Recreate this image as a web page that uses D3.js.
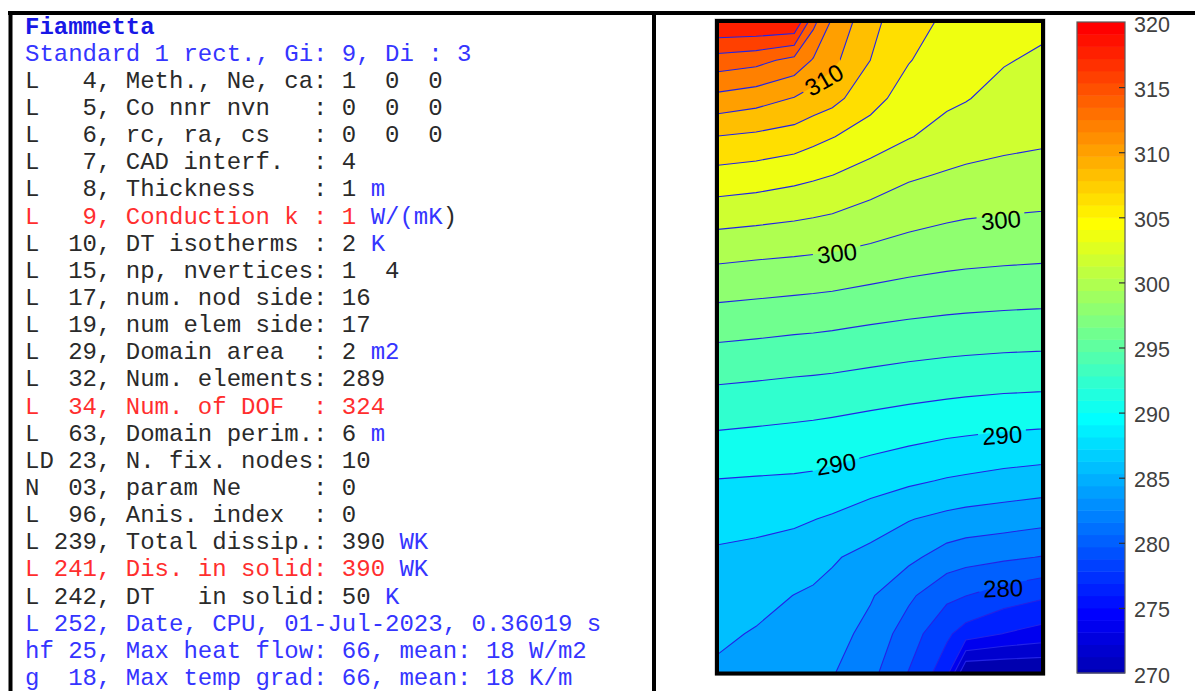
<!DOCTYPE html>
<html>
<head>
<meta charset="utf-8">
<script src="https://cdn.jsdelivr.net/npm/d3@7"></script>
<style>
  html, body { margin: 0; padding: 0; background: #fff; }
  svg { display: block; }
  .mono { font-family: "Liberation Mono", "DejaVu Sans Mono", monospace; font-size: 24px; white-space: pre; }
  .sans { font-family: "Liberation Sans", Arial, sans-serif; }
</style>
</head>
<body>
<svg id="chart" width="1197" height="691"></svg>
<script>
// ---------------------------------------------------------------
// Temperature field on the 1 m x 2 m rectangle (17 x 17 elements).
// Sampled mesh columns / rows (node indices, rows counted from top).
const meshCols = [0, 2, 4, 5, 6, 8, 10, 12, 13, 15, 17];
const meshRows = [0, 1, 2, 3, 4, 6, 8, 10, 12, 13, 14, 15, 16, 17];
const elemPerSide = 17;

// Nodal temperatures [K], one row per entry of meshRows (top to bottom)
const tempRow00 = [320.00, 320.00, 320.00, 314.54, 311.66, 308.57, 306.65, 305.70, 305.46, 304.98, 304.50];
const tempRow01 = [315.14, 314.65, 313.40, 311.84, 310.50, 307.99, 306.10, 305.03, 304.79, 304.15, 303.65];
const tempRow02 = [311.37, 310.81, 309.89, 309.16, 308.61, 306.67, 305.15, 304.36, 304.11, 303.32, 302.98];
const tempRow03 = [307.94, 307.61, 307.13, 306.58, 306.07, 305.12, 304.11, 303.30, 302.93, 302.50, 302.31];
const tempRow04 = [305.34, 305.07, 304.62, 304.33, 304.02, 303.14, 302.29, 301.82, 301.64, 301.48, 301.33];
const tempRow06 = [300.65, 300.44, 300.27, 300.16, 300.04, 299.64, 299.23, 298.92, 298.80, 298.64, 298.53];
const tempRow08 = [296.69, 296.52, 296.32, 296.24, 296.13, 295.84, 295.59, 295.40, 295.33, 295.22, 295.15];
const tempRow10 = [293.07, 292.90, 292.71, 292.63, 292.54, 292.28, 292.00, 291.75, 291.64, 291.47, 291.37];
const tempRow12 = [289.92, 289.81, 289.72, 289.61, 289.36, 288.85, 288.34, 287.84, 287.67, 287.33, 287.09];
const tempRow13 = [288.66, 288.50, 288.30, 288.05, 287.78, 287.01, 286.10, 285.49, 285.24, 284.95, 284.61];
const tempRow14 = [287.68, 287.48, 287.09, 286.70, 286.20, 285.38, 284.48, 283.12, 282.72, 282.33, 281.92];
const tempRow15 = [287.01, 286.62, 285.97, 285.73, 285.44, 284.20, 282.38, 280.49, 280.04, 279.07, 278.33];
const tempRow16 = [286.34, 285.85, 285.43, 285.16, 284.79, 283.37, 281.02, 278.35, 277.18, 275.95, 275.22];
const tempRow17 = [285.70, 285.30, 284.90, 284.60, 284.15, 282.60, 279.95, 276.90, 270.00, 270.00, 270.00];

// Isotherm levels (DT = 2 K) and colour limits
const isoLevels = [270, 272, 274, 276, 278, 280, 282, 284, 286, 288, 290, 292, 294,
                   296, 298, 300, 302, 304, 306, 308, 310, 312, 314, 316, 318];
const colorLimits = [267.5, 327.5];
const colorbarTicks = [270, 275, 280, 285, 290, 295, 300, 305, 310, 315, 320];

// Inline isotherm labels: value, position (x, y in metres), text angle
const labelValues = [310, 300, 300, 290, 290, 280];
const labelX      = [0.327, 0.367, 0.873, 0.364, 0.877, 0.880];
const labelY      = [1.822, 1.289, 1.391, 0.640, 0.729, 0.258];
const labelAngle  = [-30, -6, -5, -9, -4, -2];

// Run summary printed beside the plot: [text, colour key]
const infoLines = [
  [["Fiammetta", "title"]],
  [["Standard 1 rect., Gi: 9, Di : 3", "b"]],
  [["L   4, Meth., Ne, ca: 1  0  0", "k"]],
  [["L   5, Co nnr nvn   : 0  0  0", "k"]],
  [["L   6, rc, ra, cs   : 0  0  0", "k"]],
  [["L   7, CAD interf.  : 4", "k"]],
  [["L   8, Thickness    : 1 ", "k"], ["m", "b"]],
  [["L   9, Conduction k : 1 ", "r"], ["W/(mK", "b"], [")", "k"]],
  [["L  10, DT isotherms : 2 ", "k"], ["K", "b"]],
  [["L  15, np, nvertices: 1  4", "k"]],
  [["L  17, num. nod side: 16", "k"]],
  [["L  19, num elem side: 17", "k"]],
  [["L  29, Domain area  : 2 ", "k"], ["m2", "b"]],
  [["L  32, Num. elements: 289", "k"]],
  [["L  34, Num. of DOF  : 324", "r"]],
  [["L  63, Domain perim.: 6 ", "k"], ["m", "b"]],
  [["LD 23, N. fix. nodes: 10", "k"]],
  [["N  03, param Ne     : 0", "k"]],
  [["L  96, Anis. index  : 0", "k"]],
  [["L 239, Total dissip.: 390 ", "k"], ["WK", "b"]],
  [["L 241, Dis. in solid: 390 ", "r"], ["WK", "b"]],
  [["L 242, DT   in solid: 50 ", "k"], ["K", "b"]],
  [["L 252, Date, CPU, 01-Jul-2023, 0.36019 s", "b"]],
  [["hf 25, Max heat flow: 66, mean: 18 W/m2", "b"]],
  [["g  18, Max temp grad: 66, mean: 18 K/m", "b"]]
];

// ---------------------------------------------------------------
const textColors = { k: "#2a2a2a", b: "#3535ff", r: "#ff2e2e", title: "#1818e6" };

// MATLAB-style jet colormap with m entries
function jetMap(m) {
  const n = Math.ceil(m / 4);
  const u = [].concat(d3.range(1, n + 1).map(i => i / n),
                      Array(n - 1).fill(1),
                      d3.range(n, 0, -1).map(i => i / n));
  const g0 = Math.ceil(n / 2) - (m % 4 === 1 ? 1 : 0);
  const cm = Array.from({ length: m }, () => [0, 0, 0]);
  u.forEach((v, idx) => {
    const g = g0 + idx + 1, r = g + n, b = g - n;
    if (g >= 1 && g <= m) cm[g - 1][1] = v;
    if (r >= 1 && r <= m) cm[r - 1][0] = v;
    if (b >= 1 && b <= m) cm[b - 1][2] = v;
  });
  return cm.map(c => d3.rgb(Math.round(c[0] * 255), Math.round(c[1] * 255), Math.round(c[2] * 255)).formatHex());
}
const cmap = jetMap(64);
const colorIndex = d3.scaleQuantize().domain(colorLimits).range(d3.range(64));
const colorOf = t => cmap[colorIndex(t)];

const svg = d3.select("#chart");

// ---------------- text panel ----------------
svg.append("line").attr("x1", 8).attr("x2", 1195).attr("y1", 13).attr("y2", 13)
   .attr("stroke", "#000").attr("stroke-width", 4);
svg.append("line").attr("x1", 10.5).attr("x2", 10.5).attr("y1", 11).attr("y2", 691)
   .attr("stroke", "#000").attr("stroke-width", 4);
svg.append("line").attr("x1", 654).attr("x2", 654).attr("y1", 11).attr("y2", 691)
   .attr("stroke", "#000").attr("stroke-width", 4);

const lineY = d3.scaleLinear().domain([0, infoLines.length - 1]).range([33.5, 685]);
const info = svg.append("g").attr("class", "mono");
infoLines.forEach((segs, i) => {
  const t = info.append("text").attr("x", 25).attr("y", lineY(i)).attr("xml:space", "preserve");
  segs.forEach(([txt, key]) => {
    t.append("tspan").text(txt).attr("fill", textColors[key])
     .attr("font-weight", key === "title" ? "bold" : null);
  });
});

// ---------------- contour plot ----------------
const plot = { x0: 718, x1: 1042, y0: 22, y1: 672 };
const xScale = d3.scaleLinear().domain([0, 1]).range([plot.x0, plot.x1]);
const yScale = d3.scaleLinear().domain([0, 2]).range([plot.y1, plot.y0]);

const nx = meshCols.length, ny = meshRows.length;
const grid = [tempRow00, tempRow01, tempRow02, tempRow03, tempRow04, tempRow06, tempRow08,
              tempRow10, tempRow12, tempRow13, tempRow14, tempRow15, tempRow16, tempRow17].flat();

// grid-cell coordinates -> pixels through the (non-uniform) node positions
const gx = d3.scaleLinear().domain(meshCols.map((_, i) => i + 0.5))
             .range(meshCols.map(c => xScale(c / elemPerSide)));
const gy = d3.scaleLinear().domain(meshRows.map((_, j) => j + 0.5))
             .range(meshRows.map(r => yScale(2 - 2 * r / elemPerSide)));
const proj = d3.geoTransform({ point(u, v) { this.stream.point(gx(u), gy(v)); } });
const path = d3.geoPath(proj);

const contours = d3.contours().size([nx, ny]).thresholds(isoLevels)(grid);

const defs = svg.append("defs");
defs.append("clipPath").attr("id", "plotClip").append("rect")
    .attr("x", plot.x0).attr("y", plot.y0)
    .attr("width", plot.x1 - plot.x0).attr("height", plot.y1 - plot.y0);

// gaps in the isotherms under the inline labels
const mask = defs.append("mask").attr("id", "labelGaps")
    .attr("maskUnits", "userSpaceOnUse").attr("x", 0).attr("y", 0)
    .attr("width", 1197).attr("height", 691);
mask.append("rect").attr("width", 1197).attr("height", 691).attr("fill", "#fff");
labelValues.forEach((v, i) => {
  mask.append("rect").attr("x", -24).attr("y", -11).attr("width", 48).attr("height", 22)
      .attr("fill", "#000")
      .attr("transform", `translate(${xScale(labelX[i])},${yScale(labelY[i])}) rotate(${labelAngle[i]})`);
});

const field = svg.append("g").attr("clip-path", "url(#plotClip)");
field.append("rect").attr("x", plot.x0).attr("y", plot.y0)
     .attr("width", plot.x1 - plot.x0).attr("height", plot.y1 - plot.y0)
     .attr("fill", colorOf(isoLevels[0]));
field.selectAll("path.band").data(contours).join("path")
     .attr("class", "band").attr("d", path)
     .attr("fill", d => colorOf(d.value)).attr("stroke", "none");
field.append("g").attr("mask", "url(#labelGaps)")
     .selectAll("path.iso").data(contours.filter(d => d.value > isoLevels[0])).join("path")
     .attr("class", "iso").attr("d", path)
     .attr("fill", "none").attr("stroke", "#2323e6").attr("stroke-width", 1.1);

// inline labels
svg.append("g").attr("class", "sans").selectAll("text").data(labelValues).join("text")
   .attr("transform", (d, i) => `translate(${xScale(labelX[i])},${yScale(labelY[i])}) rotate(${labelAngle[i]})`)
   .attr("text-anchor", "middle").attr("dy", "0.36em")
   .attr("font-size", 24).attr("fill", "#000").text(d => d);

// frame
svg.append("rect").attr("x", plot.x0 - 3).attr("y", plot.y0 - 3)
   .attr("width", plot.x1 - plot.x0 + 6).attr("height", plot.y1 - plot.y0 + 6)
   .attr("fill", "none").attr("stroke", "#b0b0b0").attr("stroke-width", 1);
svg.append("rect").attr("x", plot.x0 - 1).attr("y", plot.y0 - 1)
   .attr("width", plot.x1 - plot.x0 + 2).attr("height", plot.y1 - plot.y0 + 2.5)
   .attr("fill", "none").attr("stroke", "#000").attr("stroke-width", 4);

// ---------------- colorbar ----------------
const cb = { x0: 1077, x1: 1125 };
const cbScale = d3.scaleLinear().domain([colorbarTicks[0], colorbarTicks[colorbarTicks.length - 1]])
                  .range([673, 22]);
const step = (colorLimits[1] - colorLimits[0]) / cmap.length;
const bands = cmap.map((c, k) => ({
  lo: Math.max(colorLimits[0] + k * step, cbScale.domain()[0]),
  hi: Math.min(colorLimits[0] + (k + 1) * step, cbScale.domain()[1]),
  color: c
})).filter(b => b.hi > b.lo);
svg.append("g").selectAll("rect").data(bands).join("rect")
   .attr("x", cb.x0).attr("width", cb.x1 - cb.x0)
   .attr("y", d => cbScale(d.hi)).attr("height", d => cbScale(d.lo) - cbScale(d.hi) + 0.5)
   .attr("fill", d => d.color);
svg.append("rect").attr("x", cb.x0).attr("y", cbScale.range()[1])
   .attr("width", cb.x1 - cb.x0).attr("height", cbScale.range()[0] - cbScale.range()[1])
   .attr("fill", "none").attr("stroke", "#5a5a5a").attr("stroke-width", 1.2);

const cbAxis = svg.append("g").attr("transform", `translate(${cb.x1},0)`)
   .call(d3.axisRight(cbScale).tickValues(colorbarTicks).tickSize(-6).tickPadding(9));
cbAxis.select(".domain").remove();
cbAxis.selectAll(".tick line").attr("stroke", "#333").attr("stroke-width", 1.2);
cbAxis.selectAll(".tick").filter(d => d === colorbarTicks[0] || d === colorbarTicks[colorbarTicks.length - 1])
      .select("line").remove();
cbAxis.selectAll(".tick text").attr("font-family", "Liberation Sans, Arial, sans-serif")
      .attr("font-size", 21.5).attr("fill", "#404040").attr("dy", "0.42em");
</script>
</body>
</html>
